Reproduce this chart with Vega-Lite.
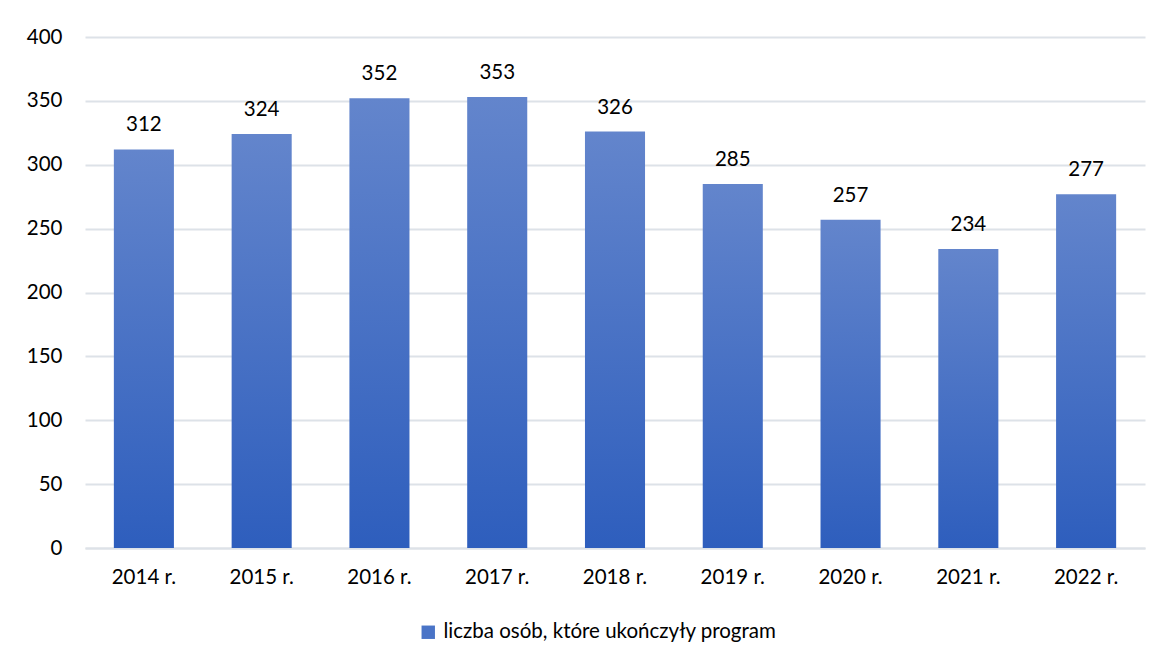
{
  "$schema": "https://vega.github.io/schema/vega-lite/v6.json",
  "width": 1060,
  "height": 511,
  "autosize": "none",
  "padding": {"left": 85, "top": 37, "right": 21, "bottom": 115},
  "background": "white",
  "config": {
    "view": {"stroke": null},
    "font": "Lato",
    "axis": {"labelFont": "Lato", "labelColor": "#000000", "labelFontSize": 20.5}
  },
  "data": {
    "values": [
      {"rok": "2014 r.", "liczba": 312, "seria": "liczba osób, które ukończyły program"},
      {"rok": "2015 r.", "liczba": 324, "seria": "liczba osób, które ukończyły program"},
      {"rok": "2016 r.", "liczba": 352, "seria": "liczba osób, które ukończyły program"},
      {"rok": "2017 r.", "liczba": 353, "seria": "liczba osób, które ukończyły program"},
      {"rok": "2018 r.", "liczba": 326, "seria": "liczba osób, które ukończyły program"},
      {"rok": "2019 r.", "liczba": 285, "seria": "liczba osób, które ukończyły program"},
      {"rok": "2020 r.", "liczba": 257, "seria": "liczba osób, które ukończyły program"},
      {"rok": "2021 r.", "liczba": 234, "seria": "liczba osób, które ukończyły program"},
      {"rok": "2022 r.", "liczba": 277, "seria": "liczba osób, które ukończyły program"}
    ]
  },
  "encoding": {
    "x": {
      "field": "rok", "type": "nominal", "sort": null,
      "scale": {"paddingInner": 0.49, "paddingOuter": 0.245},
      "axis": {"title": null, "labelAngle": 0, "ticks": false, "domain": true, "domainColor": "#dde2e8", "domainWidth": 2, "labelPadding": 19}
    },
    "y": {
      "field": "liczba", "type": "quantitative",
      "scale": {"domain": [0, 400]},
      "axis": {"title": null, "values": [0, 50, 100, 150, 200, 250, 300, 350, 400], "domain": false, "ticks": false, "gridColor": "#dde2e8", "gridWidth": 2, "labelPadding": 23}
    }
  },
  "layer": [
    {
      "mark": {"type": "bar"},
      "encoding": {
        "color": {
          "condition": {
            "test": "datum.liczba < 0",
            "field": "seria", "type": "nominal",
            "scale": {"range": ["#4a74c7"]},
            "legend": {"title": null, "orient": "none", "legendX": 333, "legendY": 585, "labelFontSize": 20.5, "labelFont": "Lato", "labelColor": "#000000", "labelLimit": 0, "symbolType": "square", "symbolSize": 180, "symbolStrokeWidth": 0, "labelOffset": 5}
          },
          "value": {"gradient": "linear", "x1": 0, "y1": 0, "x2": 0, "y2": 1, "stops": [{"offset": 0, "color": "#6385cc"}, {"offset": 1, "color": "#2e5ebd"}]}
        }
      }
    },
    {
      "mark": {"type": "text", "baseline": "alphabetic", "dy": -18, "fontSize": 20.5, "font": "Lato", "color": "#000000"},
      "encoding": {"text": {"field": "liczba", "type": "quantitative"}}
    }
  ]
}
